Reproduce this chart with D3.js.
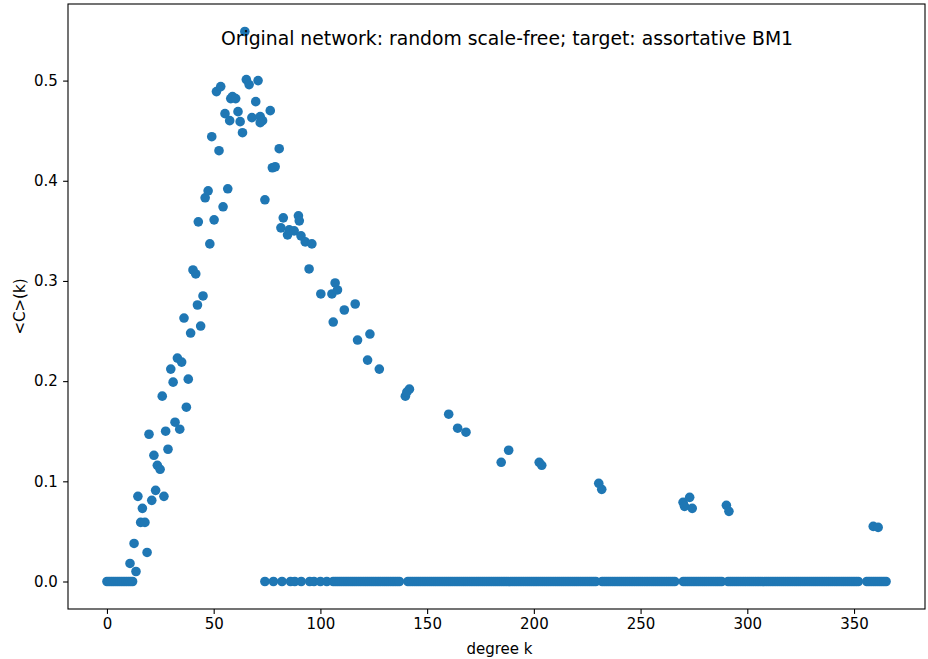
<!DOCTYPE html>
<html>
<head>
<meta charset="utf-8">
<script src="https://cdn.jsdelivr.net/npm/d3@7"></script>
<style>
  body { margin: 0; background: #fff; }
  svg { display: block; font-family: 'DejaVu Sans', sans-serif; }
</style>
</head>
<body>
<div id="chart"></div>
<script>
// degrees with non-zero average clustering
const degK = [10.8, 12.7, 13.6, 14.5, 15.8, 17.8, 16.6, 18.8, 19.7, 21.0, 22.0, 22.8, 23.6, 24.9,
  25.9, 26.7, 27.5, 28.6, 29.9, 31.0, 31.9, 33.0, 34.1, 35.0, 36.1, 37.2, 38.1, 39.2, 40.3, 41.6,
  42.4, 42.8, 43.9, 45.0, 46.0, 47.4, 48.2, 49.1, 50.2, 51.3, 52.5, 53.3, 54.4, 55.3, 56.6, 57.5,
  58.0, 58.8, 60.3, 61.4, 62.4, 63.5, 64.6, 65.3, 66.6, 67.9, 69.7, 70.8, 71.8, 72.9, 71.8, 74.0,
  76.5, 77.5, 78.8, 80.7, 81.5, 82.6, 84.6, 85.4, 87.7, 89.7, 90.1, 90.9, 92.9, 94.7, 96.0, 100.2,
  105.4, 106.0, 106.9, 108.0, 111.2, 116.3, 117.4, 122.1, 123.2, 127.6, 139.8, 141.7, 140.5, 160.1,
  164.3, 168.2, 184.7, 188.2, 202.5, 203.7, 230.4, 231.8, 269.9, 270.6, 273.0, 274.2, 290.2, 291.4,
  359.0, 361.3];
const avgC = [0.018, 0.038, 0.010, 0.085, 0.059, 0.059, 0.073, 0.029, 0.147, 0.081, 0.126, 0.091, 0.116, 0.112,
  0.185, 0.085, 0.150, 0.132, 0.212, 0.199, 0.159, 0.223, 0.152, 0.219, 0.263, 0.174, 0.202, 0.248, 0.311, 0.307,
  0.276, 0.359, 0.255, 0.285, 0.383, 0.390, 0.337, 0.444, 0.361, 0.489, 0.430, 0.494, 0.374, 0.467, 0.392, 0.460,
  0.482, 0.484, 0.482, 0.469, 0.459, 0.448, 0.549, 0.501, 0.496, 0.463, 0.479, 0.500, 0.464, 0.460, 0.458, 0.381,
  0.470, 0.413, 0.414, 0.432, 0.353, 0.363, 0.346, 0.351, 0.350, 0.365, 0.360, 0.345, 0.339, 0.312, 0.337, 0.287,
  0.287, 0.259, 0.298, 0.291, 0.271, 0.277, 0.241, 0.221, 0.247, 0.212, 0.185, 0.192, 0.189, 0.167,
  0.153, 0.149, 0.119, 0.131, 0.119, 0.116, 0.098, 0.092, 0.079, 0.075, 0.084, 0.073, 0.076, 0.070,
  0.055, 0.054];
// degrees where <C>(k) is zero
const zeroK = [0, 1, 2, 3, 4, 5, 6, 7, 8, 9, 10, 11, 12,
  74, 78, 82, 86, 88, 91, 95, 97, 100, 103,
  106, 107, 108, 109, 110, 111, 112, 113, 114, 115, 116, 117, 118, 119, 120, 121, 122, 123, 124, 125,
  126, 127, 128, 129, 130, 131, 132, 133, 134, 135, 136, 137,
  141, 142, 143, 144, 145, 146, 147, 148, 149, 150, 151, 152, 153, 154, 155, 156, 157, 158, 159, 160,
  161, 162, 163, 164, 165, 166, 167, 168, 169, 170, 171, 172, 173, 174, 175, 176, 177, 178, 179, 180,
  181, 182, 183, 184, 185, 186, 187, 188, 189, 190, 191, 192, 193, 194, 195, 196, 197, 198, 199, 200,
  201, 202, 203, 204, 205, 206, 207, 208, 209, 210, 211, 212, 213, 214, 215, 216, 217, 218, 219, 220,
  221, 222, 223, 224, 225, 226, 227, 228, 229, 232, 233, 234, 235, 236, 237, 238, 239, 240,
  241, 242, 243, 244, 245, 246, 247, 248, 249, 250, 251, 252, 253, 254, 255, 256, 257, 258, 259, 260,
  261, 262, 263, 264, 265, 266,
  270, 271, 272, 273, 274, 275, 276, 277, 278, 279, 280, 281, 282, 283, 284, 285, 286, 287, 288,
  291, 292, 293, 294, 295, 296, 297, 298, 299, 300,
  301, 302, 303, 304, 305, 306, 307, 308, 309, 310, 311, 312, 313, 314, 315, 316, 317, 318, 319, 320,
  321, 322, 323, 324, 325, 326, 327, 328, 329, 330, 331, 332, 333, 334, 335, 336, 337, 338, 339, 340,
  341, 342, 343, 344, 345, 346, 347, 348, 349, 350, 351, 352,
  356, 357, 358, 359, 360, 361, 362, 363, 364, 365];
const xTicks = [0, 50, 100, 150, 200, 250, 300, 350];
const yTicks = [0.0, 0.1, 0.2, 0.3, 0.4, 0.5];
const titleText = 'Original network: random scale-free; target: assortative BM1';

const points = degK.map((k, i) => ({ k: k, c: avgC[i] }))
  .concat(zeroK.map(k => ({ k: k, c: 0 })));

const width = 928, height = 659;
const margin = { top: 4, right: 3, bottom: 50, left: 68 };

// matplotlib-like 5% padding around the data
function padded(ext) {
  const m = (ext[1] - ext[0]) * 0.05;
  return [ext[0] - m, ext[1] + m];
}

const x = d3.scaleLinear()
  .domain(padded(d3.extent(points, d => d.k)))
  .range([margin.left, width - margin.right]);
const y = d3.scaleLinear()
  .domain(padded(d3.extent(points, d => d.c)))
  .range([height - margin.bottom, margin.top]);

const svg = d3.select('#chart').append('svg')
  .attr('width', width)
  .attr('height', height);

svg.append('g')
  .attr('fill', '#1f77b4')
  .selectAll('circle')
  .data(points)
  .join('circle')
  .attr('cx', d => x(d.k))
  .attr('cy', d => y(d.c))
  .attr('r', 4.8);

const xAxis = svg.append('g')
  .attr('transform', `translate(0,${height - margin.bottom})`)
  .call(d3.axisBottom(x).tickValues(xTicks).tickFormat(d3.format('d')).tickSize(4.9).tickPadding(4.5));
const yAxis = svg.append('g')
  .attr('transform', `translate(${margin.left},0)`)
  .call(d3.axisLeft(y).tickValues(yTicks).tickFormat(d3.format('.1f')).tickSize(4.9).tickPadding(5.2));

[xAxis, yAxis].forEach(a => {
  a.select('.domain').remove();
  a.selectAll('.tick line').attr('stroke', '#000').attr('stroke-width', 1.1);
  a.selectAll('.tick text').attr('fill', '#000').style('font-size', '15px').style('font-family', 'DejaVu Sans');
});

// frame
svg.append('rect')
  .attr('x', margin.left)
  .attr('y', margin.top)
  .attr('width', width - margin.left - margin.right)
  .attr('height', height - margin.top - margin.bottom)
  .attr('fill', 'none')
  .attr('stroke', '#000')
  .attr('stroke-width', 1.1);

svg.append('text')
  .attr('x', 507)
  .attr('y', 45)
  .attr('text-anchor', 'middle')
  .style('font-size', '18.8px')
  .text(titleText);

svg.append('text')
  .attr('x', (margin.left + width - margin.right) / 2 + 3)
  .attr('y', 654)
  .attr('text-anchor', 'middle')
  .style('font-size', '15px')
  .text('degree k');

svg.append('text')
  .attr('transform', `translate(25,${(margin.top + height - margin.bottom) / 2}) rotate(-90)`)
  .attr('text-anchor', 'middle')
  .style('font-size', '15px')
  .text('<C>(k)');
</script>
</body>
</html>
